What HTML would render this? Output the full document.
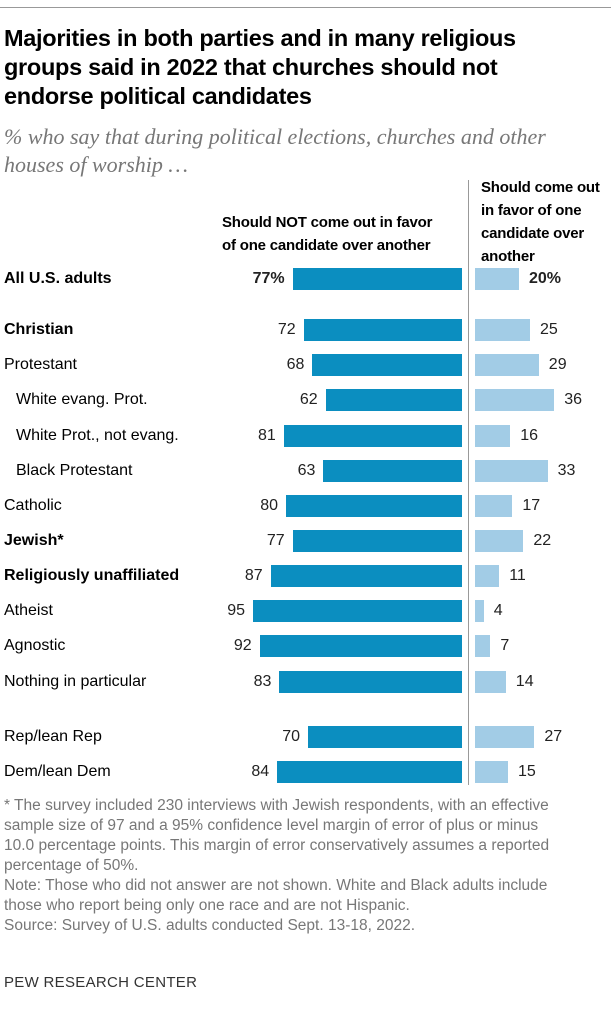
<!DOCTYPE html>
<html><head><meta charset="utf-8"><style>
body{margin:0;width:611px;height:1024px;background:#fff;font-family:"Liberation Sans",sans-serif;position:relative;overflow:hidden;color:#000}
.a{position:absolute;white-space:nowrap}
</style></head><body>
<div class="a" style="left:0;top:7px;width:611px;height:1px;background:#999"></div>
<div class="a" style="left:4px;top:24px;font-weight:bold;font-size:23.5px;line-height:29px;letter-spacing:-0.3px">Majorities in both parties and in many religious<br>groups said in 2022 that churches should not<br>endorse political candidates</div>
<div class="a" style="left:4px;top:123px;font-family:'Liberation Serif',serif;font-style:italic;font-size:22px;line-height:28px;color:#777">% who say that during political elections, churches and other<br>houses of worship …</div>
<div class="a" style="left:222px;top:211px;font-weight:bold;font-size:15px;line-height:23px;letter-spacing:-0.2px">Should NOT come out in favor<br>of one candidate over another</div>
<div class="a" style="left:481px;top:176px;font-weight:bold;font-size:15px;line-height:23px;letter-spacing:-0.2px">Should come out<br>in favor of one<br>candidate over<br>another</div>
<div class="a" style="left:468px;top:180px;width:1px;height:605px;background:#999"></div>
<div id="chart"></div>
<div class="a" style="left:4px;top:796px;font-size:15.5px;line-height:20px;color:#777">* The survey included 230 interviews with Jewish respondents, with an effective<br>sample size of 97 and a 95% confidence level margin of error of plus or minus<br>10.0 percentage points. This margin of error conservatively assumes a reported<br>percentage of 50%.<br>Note: Those who did not answer are not shown. White and Black adults include<br>those who report being only one race and are not Hispanic.<br>Source: Survey of U.S. adults conducted Sept. 13-18, 2022.</div>
<div class="a" style="left:4px;top:974px;font-size:15px;color:#333;letter-spacing:0.3px">PEW RESEARCH CENTER</div>
<script>
const categories=["All U.S. adults","Christian","Protestant","White evang. Prot.","White Prot., not evang.","Black Protestant","Catholic","Jewish*","Religiously unaffiliated","Atheist","Agnostic","Nothing in particular","Rep/lean Rep","Dem/lean Dem"];
const shouldNot=[77,72,68,62,81,63,80,77,87,95,92,83,70,84];
const should=[20,25,29,36,16,33,17,22,11,4,7,14,27,15];
const boldRows=[true,true,false,false,false,false,false,true,true,false,false,false,false,false];
const indentRows=[false,false,false,true,true,true,false,false,false,false,false,false,false,false];
const rowY=[279,330,365,400,436,471,506,541,576,611,646,682,737,772];
const S=2.2, leftEnd=462, rightStart=475, BH=22;
const c=document.getElementById('chart');
function mk(css,txt){const d=document.createElement('div');d.className='a';d.style.cssText=css;if(txt!==undefined)d.textContent=txt;c.appendChild(d);return d;}
categories.forEach((cat,i)=>{
 const y=rowY[i];
 const b=boldRows[i]?'font-weight:bold;':'';
 const l=mk(`left:${indentRows[i]?16:4}px;top:${y-10}px;font-size:16px;line-height:20px;${b}`,cat);
 
 
 const w1=shouldNot[i]*S;
 const b1=mk(`left:${leftEnd-w1}px;top:${y-BH/2}px;width:${w1}px;height:${BH}px;background:#0b8ec0`);
 
 
 const v1=mk(`right:${611-(leftEnd-w1)+8}px;top:${y-10}px;font-size:16px;line-height:20px;${i==0?'font-weight:bold;':''}color:#222`,shouldNot[i]+(i==0?'%':''));
 
 
 const w2=should[i]*S;
 const b2=mk(`left:${rightStart}px;top:${y-BH/2}px;width:${w2}px;height:${BH}px;background:#a2cce6`);
 
 
 const v2=mk(`left:${rightStart+w2+10}px;top:${y-10}px;font-size:16px;line-height:20px;${i==0?'font-weight:bold;':''}color:#222`,should[i]+(i==0?'%':''));
 
 
});
</script>
</body></html>
